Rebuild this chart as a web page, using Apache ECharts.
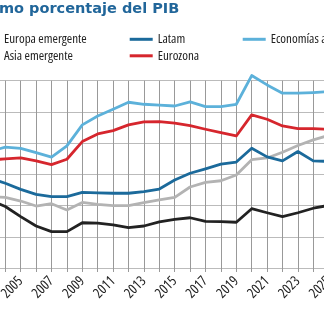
<!DOCTYPE html>
<html>
<head>
<meta charset="utf-8">
<script src="https://cdn.jsdelivr.net/npm/echarts@6/dist/echarts.min.js"></script>
<style>html,body{margin:0;padding:0;background:#fff}#c{width:324px;height:324px}</style>
</head>
<body>
<div id="c"></div>
<script>
var years = ['2003','2004','2005','2006','2007','2008','2009','2010','2011','2012','2013','2014','2015','2016','2017','2018','2019','2020','2021','2022','2023','2024','2025'];
var europaEmergente = [43.6,39.4,32.9,26.9,23.3,23.3,29.0,28.7,27.6,25.8,26.9,29.5,31.2,32.2,29.9,29.7,29.3,38.0,35.4,32.9,35.4,38.3,40.1];
var asiaEmergente   = [45.8,45.2,42.9,39.7,41.2,37.2,42.0,40.8,39.9,39.9,41.9,43.6,45.3,51.9,54.9,55.9,59.6,69.4,70.5,74.2,78.5,82.1,84.9];
var latam           = [57.4,54.3,50.4,47.2,45.7,45.7,48.4,48.1,47.9,47.9,48.9,50.6,56.4,60.7,63.5,66.5,67.9,76.7,71.2,68.6,74.6,68.6,68.3];
var eurozona        = [69.2,69.9,70.5,68.6,66.2,69.7,81.0,85.9,88.0,91.7,93.6,93.8,92.8,91.2,88.9,86.7,84.6,98.1,95.3,91.0,89.3,89.3,88.9];
var avanzadas       = [74.7,77.4,76.7,73.9,71.0,78.2,91.7,97.4,101.7,106.2,104.9,104.3,103.8,106.4,103.4,103.4,104.9,123.3,117.3,112.0,112.0,112.4,113.0];
var yTicks = [0,20,40,60,80,100,120];
var titleText = 'mo porcentaje del PIB';

var FONT = "'Open Sans','DejaVu Sans Condensed',sans-serif";
var chart = echarts.init(document.getElementById('c'), null, {renderer:'canvas'});

function lg(name, left, top){
  return {data:[name], left:left, top:top, padding:0, icon:'rect', itemWidth:23, itemHeight:3,
    textStyle:{fontFamily:FONT, fontStyle:'condensed', fontSize:13, color:'#222', padding:[0,0,6,0]},
    selectedMode:false};
}
function ser(name, data, color){
  return {name:name, type:'line', data:data, symbol:'none', clip:false,
    lineStyle:{width:2.8, color:color, join:'round'}, itemStyle:{color:color}, z:3};
}

chart.setOption({
  animation:false,
  title:{text:titleText, left:-1, top:2, padding:0,
    textStyle:{fontFamily:"'DejaVu Sans', sans-serif", fontWeight:'bold', fontSize:14.5, color:'#21669a'}},
  legend:[
    lg('Europa emergente', -24, 32.8),
    lg('Asia emergente', -24, 49.3),
    lg('Latam', 129.7, 32.8),
    lg('Eurozona', 129.7, 49.3),
    lg('Economías avanzadas', 242.7, 32.8)
  ],
  grid:{left:-10.1, top:80.7, width:338.8, height:187.3, containLabel:false, outerBoundsMode:'none'},
  xAxis:{type:'category', data:years, boundaryGap:false,
    axisLine:{show:false},
    axisTick:{show:true, interval:0, length:4, lineStyle:{color:'#999', width:1}},
    splitLine:{show:true, interval:0, lineStyle:{color:'#999', width:1}},
    axisLabel:{interval:function(i,v){return (+v)%2===1;}, rotate:45, margin:11,
      fontFamily:FONT, fontStyle:'condensed', fontSize:14, color:'#222'}},
  yAxis:{type:'value', min:yTicks[0], max:yTicks[yTicks.length-1], interval:20,
    axisLabel:{show:false}, axisLine:{show:false}, axisTick:{show:false},
    splitLine:{lineStyle:{color:'#bbb', width:1}}},
  series:[
    ser('Europa emergente', europaEmergente, '#222222'),
    ser('Asia emergente', asiaEmergente, '#b3b3b3'),
    ser('Latam', latam, '#1b6a9b'),
    ser('Eurozona', eurozona, '#d6262d'),
    ser('Economías avanzadas', avanzadas, '#5cb1da')
  ]
});
</script>
</body>
</html>
